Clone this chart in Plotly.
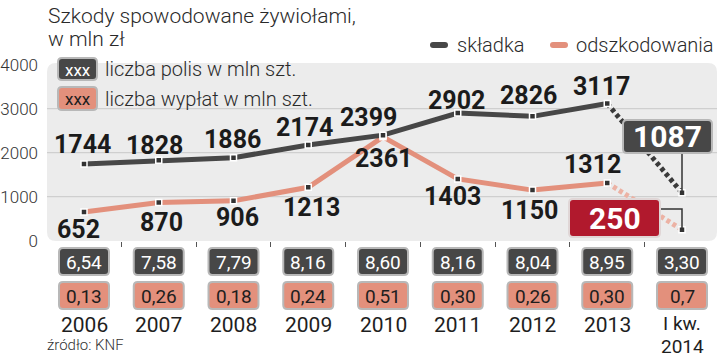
import plotly.graph_objects as go

# ---------------- data ----------------
years = ["2006", "2007", "2008", "2009", "2010", "2011", "2012", "2013", "I kw.<br>2014"]
skladka = [1744, 1828, 1886, 2174, 2399, 2902, 2826, 3117, 1087]
odszkodowania = [652, 870, 906, 1213, 2361, 1403, 1150, 1312, 250]
polisy = ["6,54", "7,58", "7,79", "8,16", "8,60", "8,16", "8,04", "8,95", "3,30"]
wyplaty = ["0,13", "0,26", "0,18", "0,24", "0,51", "0,30", "0,26", "0,30", "0,7"]
y_ticks = [0, 1000, 2000, 3000, 4000]
grid_vals = [1000, 2000, 3000]

# ---------------- label placement (pixels) ----------------
sk_dx = [-2, -4, -1, -4, -15, -1, -4, -6]
sk_dy = [19, 15, 18, 18, 18, 13, 21, 17]
od_dx = [-6, 3, 4, 3, 0, -5, -3, -15]
od_dy = [-17, -20, -17, -20, -22, -18, -20, 18]

# ---------------- styling ----------------
W, H = 720, 360
DARK = "#474747"
SALMON = "#e3907c"
SALMON_LIGHT = "#ecb2a4"
RED = "#b1192d"
PANEL = "#ececec"
GRID = "#c8c8c8"
BORDER = "#b8b8b8"
LABEL_FONT = "Roboto, sans-serif"
TXT_FONT = "Roboto, sans-serif"

X_DOMAIN_PX = (47, 717)
Y_DOMAIN_PX = (63, 241)
CAT0_PX, STEP_PX = 84, 74.75
PX_PER_UNIT = 0.044
ZERO_PX = 240.7

xr0 = -(CAT0_PX - X_DOMAIN_PX[0]) / STEP_PX
xr1 = xr0 + (X_DOMAIN_PX[1] - X_DOMAIN_PX[0]) / STEP_PX
yr0 = (ZERO_PX - Y_DOMAIN_PX[1]) / PX_PER_UNIT
yr1 = (ZERO_PX - Y_DOMAIN_PX[0]) / PX_PER_UNIT


def py(p):  # pixel row -> paper y
    return 1 - p / H


def px(p):  # pixel column -> paper x
    return p / W


def py2val(p):  # pixel row -> data y
    return (ZERO_PX - p) / PX_PER_UNIT


def rr(x0, x1, y0, y1, rx, ry):
    return (f"M {x0+rx},{y0} L {x1-rx},{y0} Q {x1},{y0} {x1},{y0+ry} "
            f"L {x1},{y1-ry} Q {x1},{y1} {x1-rx},{y1} L {x0+rx},{y1} "
            f"Q {x0},{y1} {x0},{y1-ry} L {x0},{y0+ry} Q {x0},{y0} {x0+rx},{y0} Z")


n = len(years)
idx = list(range(n))

fig = go.Figure()

# lines
fig.add_trace(go.Scatter(x=idx[:8], y=odszkodowania[:8], mode="lines",
                         line=dict(color=SALMON, width=5), hoverinfo="skip"))
fig.add_trace(go.Scatter(x=idx[7:], y=odszkodowania[7:], mode="lines",
                         line=dict(color=SALMON_LIGHT, width=5, dash="4px,3px"), hoverinfo="skip"))
fig.add_trace(go.Scatter(x=idx[:8], y=skladka[:8], mode="lines",
                         line=dict(color=DARK, width=5), hoverinfo="skip"))
fig.add_trace(go.Scatter(x=idx[7:], y=skladka[7:], mode="lines",
                         line=dict(color="#3a3a3a", width=5, dash="4px,3px"), hoverinfo="skip"))
for series in (odszkodowania, skladka):
    fig.add_trace(go.Scatter(x=idx, y=series, mode="markers",
                             marker=dict(symbol="square", size=6, color="#333333",
                                         line=dict(color="white", width=1.5)),
                             hoverinfo="skip"))

shapes = []
# panel
shapes.append(dict(type="path", xref="paper", yref="paper", layer="below",
                   path=rr(px(X_DOMAIN_PX[0]), px(X_DOMAIN_PX[1]), py(Y_DOMAIN_PX[1]), py(Y_DOMAIN_PX[0]),
                           px(9), 9 / H),
                   fillcolor=PANEL, line=dict(width=0)))
# grid lines
for g in grid_vals:
    shapes.append(dict(type="line", xref="paper", yref="y", layer="below",
                       x0=px(X_DOMAIN_PX[0]), x1=px(X_DOMAIN_PX[1]), y0=g, y1=g,
                       line=dict(color=GRID, width=1)))

annotations = []


def note(x, y, text, font, xref="paper", yref="paper", xanchor="center", yanchor="middle", **kw):
    annotations.append(dict(x=x, y=y, xref=xref, yref=yref, text=text, showarrow=False,
                            xanchor=xanchor, yanchor=yanchor, font=font, **kw))


LBL = dict(family=LABEL_FONT, size=25, color="#1b1b1b", weight="bold")
# data labels
for i in range(8):
    note(i, skladka[i], str(skladka[i]), LBL, xref="x", yref="y", xshift=sk_dx[i], yshift=sk_dy[i])
    note(i, odszkodowania[i], str(odszkodowania[i]), LBL, xref="x", yref="y",
         xshift=od_dx[i], yshift=od_dy[i])

# callouts for the last point
hw = 1 / STEP_PX
BIG = dict(family=LABEL_FONT, size=30, color="white", weight="bold")
# 1087 box
bx0, bx1 = 8 + (623 - 682) * hw, 8 + (712 - 682) * hw
by0, by1 = py2val(153), py2val(120)
shapes.append(dict(type="line", xref="x", yref="y", layer="above", x0=8, x1=8,
                   y0=skladka[8], y1=by0, line=dict(color="#333333", width=1.5)))
shapes.append(dict(type="path", xref="x", yref="y", layer="above",
                   path=rr(bx0, bx1, by0, by1, 4 * hw, 4 / PX_PER_UNIT),
                   fillcolor=DARK, line=dict(color=BORDER, width=2)))
note((bx0 + bx1) / 2, (by0 + by1) / 2, str(skladka[8]), BIG, xref="x", yref="y")
# 250 box
rx0, rx1 = 8 + (569 - 682) * hw, 8 + (660 - 682) * hw
ry0, ry1 = py2val(237), py2val(199)
conn_y = py2val(209)
shapes.append(dict(type="path", xref="x", yref="y", layer="above",
                   path=f"M {rx1},{conn_y} L 8,{conn_y} L 8,{odszkodowania[8]}",
                   line=dict(color="#333333", width=1.5)))
shapes.append(dict(type="path", xref="x", yref="y", layer="above",
                   path=rr(rx0, rx1, ry0, ry1, 4 * hw, 4 / PX_PER_UNIT),
                   fillcolor=RED, line=dict(color="#e0d6d6", width=2)))
note((rx0 + rx1) / 2, (ry0 + ry1) / 2, str(odszkodowania[8]), BIG, xref="x", yref="y")

# boxes below the axis
for i in range(n):
    x0, x1 = i - 25 * hw, i + 25 * hw
    for (top, bot, fill, txt, tcol) in ((248, 275, DARK, polisy[i], "white"),
                                        (282, 309, SALMON, wyplaty[i], "#1e1e1e")):
        shapes.append(dict(type="path", xref="x", yref="paper", layer="above",
                           path=rr(x0, x1, py(bot), py(top), 4 * hw, 4 / H),
                           fillcolor=fill, line=dict(color=BORDER, width=2)))
        note(i, py((top + bot) / 2 + 0.5), txt, dict(family=TXT_FONT, size=19, color=tcol), xref="x")
    lines = years[i].split("<br>")
    multi = len(lines) > 1
    for k, line in enumerate(lines):
        yc = (323 + 22.5 * k) if multi else 325
        note(i, py(yc), line, dict(family=TXT_FONT, size=19 if multi else 21, color="#1e1e1e"),
             xref="x", height=18, borderpad=0)

# legend of boxes
for (top, bot, fill, tcol, label) in ((58, 80, DARK, "white", "liczba polis w mln szt."),
                                      (87, 110, SALMON, "#1e1e1e", "liczba wypłat w mln szt.")):
    shapes.append(dict(type="path", xref="paper", yref="paper", layer="above",
                       path=rr(px(58), px(97), py(bot), py(top), px(4), 4 / H),
                       fillcolor=fill, line=dict(color=BORDER, width=2)))
    note(px(77.5), py((top + bot) / 2 + 0.5), "xxx", dict(family=TXT_FONT, size=17, color=tcol))
    note(px(103), py((top + bot) / 2), label,
         dict(family=TXT_FONT, size=20, color="#2a2a2a", weight=300), xanchor="left")

# series legend (top right)
for (x0p, x1p, col, tx, label) in ((430, 448, DARK, 455, "składka"),
                                   (550, 568, SALMON, 574, "odszkodowania")):
    shapes.append(dict(type="path", xref="paper", yref="paper", layer="above",
                       path=rr(px(x0p), px(x1p), py(48), py(42), px(3), 3 / H),
                       fillcolor=col, line=dict(width=0)))
    note(px(tx), py(45), label, dict(family=TXT_FONT, size=20, color="#2a2a2a", weight=300),
         xanchor="left")

# title
TITLE = dict(family=TXT_FONT, size=21, color="#2a2a2a", weight=300)
note(px(46), py(16), "Szkody spowodowane żywiołami,", TITLE, xanchor="left")
note(px(46), py(39), "w mln zł", TITLE, xanchor="left")
# source
note(px(46), py(345), "źródło: KNF", dict(family=TXT_FONT, size=15, color="#333333", weight=300),
     xanchor="left", height=14, borderpad=0)

fig.update_layout(
    width=W, height=H, margin=dict(l=0, r=0, t=0, b=0, autoexpand=False),
    paper_bgcolor="white", plot_bgcolor="rgba(0,0,0,0)",
    showlegend=False, shapes=shapes, annotations=annotations,
    xaxis=dict(domain=[px(X_DOMAIN_PX[0]), px(X_DOMAIN_PX[1])], range=[xr0, xr1],
               tickvals=[i + 0.5 for i in range(n - 1)], ticks="outside", ticklen=5,
               tickcolor="#555555", tickwidth=1, showticklabels=False, automargin=False,
               showgrid=False, zeroline=False, showline=False, fixedrange=True),
    yaxis=dict(domain=[py(Y_DOMAIN_PX[1]), py(Y_DOMAIN_PX[0])], range=[yr0, yr1],
               tickvals=y_ticks, ticktext=[str(v) for v in y_ticks], automargin=False,
               showgrid=False, zeroline=False, showline=False, ticks="",
               ticklabelstandoff=8,
               tickfont=dict(family=TXT_FONT, size=17, color="#333333", weight=300),
               fixedrange=True),
)

fig.write_html("out.html", config={"displayModeBar": False},
               post_script="document.body.style.margin='0';document.body.style.overflow='hidden';")
